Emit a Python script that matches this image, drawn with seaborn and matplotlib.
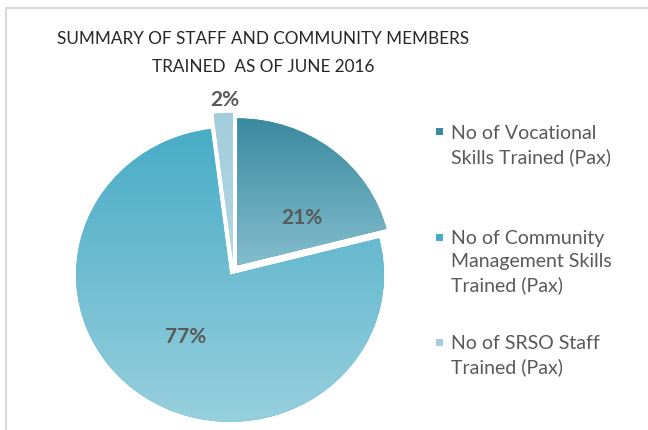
import numpy as np
import matplotlib
matplotlib.use("Agg")
import matplotlib.pyplot as plt
from matplotlib.patches import Rectangle
import seaborn as sns

# Dados do grafico
categorias = ["No of Vocational\nSkills Trained (Pax)",
              "No of Community\nManagement Skills\nTrained (Pax)",
              "No of SRSO Staff\nTrained (Pax)"]
percentuais = [21, 77, 2]
cor_topo = ["#3a8aa0", "#48acc6", "#a3cddb"]
cor_base = ["#83bdcd", "#97cfdd", "#b3d7e3"]
titulo = "SUMMARY OF STAFF AND COMMUNITY MEMBERS\nTRAINED  AS OF JUNE 2016"

sns.set_theme(style="white")
plt.rcParams["font.family"] = ["Lato", "DejaVu Sans"]

W, H = 648, 430
fig = plt.figure(figsize=(W / 100, H / 100), dpi=100)

# moldura cinza do grafico
fig.patches.append(Rectangle((6 / W, -0.1), 1.2, 1 - 8 / H + 0.1, transform=fig.transFigure,
                             fill=False, edgecolor="#d9d9d9", linewidth=1.5))

# eixo do pie (escala levemente achatada como na imagem)
cx, cy, rx, ry = 233.5, 270, 154, 147
x0, x1, y0, y1 = -1.3, 1.3, -1.15, 1.3
ax = fig.add_axes([(cx + x0 * rx) / W, (H - cy + y0 * ry) / H,
                   (x1 - x0) * rx / W, (y1 - y0) * ry / H])

wedges, _ = ax.pie(percentuais, startangle=90, counterclock=False,
                   explode=[0.04, 0.04, 0.07], colors=cor_topo, radius=1,
                   wedgeprops=dict(linewidth=0))

# gradiente vertical em cada fatia
grad = np.linspace(0, 1, 256).reshape(-1, 1)
for w, ct, cb in zip(wedges, cor_topo, cor_base):
    v = w.get_path().vertices
    cmap = sns.blend_palette([cb, ct], as_cmap=True)
    im = ax.imshow(grad, cmap=cmap, origin="lower", aspect="auto",
                   extent=(v[:, 0].min(), v[:, 0].max(), v[:, 1].min(), v[:, 1].max()),
                   zorder=w.get_zorder() + 0.1)
    im.set_clip_path(w)

ax.set_xlim(x0, x1)
ax.set_ylim(y0, y1)
ax.set_aspect("auto")
ax.axis("off")

# rotulos de percentual
dist = [0.53, 0.51, 1.09]
desvio = [-15, 0, -1]
for w, p, d, a in zip(wedges, percentuais, dist, desvio):
    th = np.deg2rad((w.theta1 + w.theta2) / 2 + a)
    ox, oy = w.center
    ax.text(ox + d * np.cos(th), oy + d * np.sin(th), f"{p}%",
            ha="center", va="center", fontsize=15, fontweight="bold", color="#595959")

# titulo
fig.text(263 / W, 1 - 31 / H, titulo, ha="center", va="top", fontsize=12.3,
         color="#262626", linespacing=1.95)

# legenda manual
topo_txt = [125, 230, 335]
centro_marc = [131, 237, 342]
for lab, ct, yt, ym in zip(categorias, cor_topo, topo_txt, centro_marc):
    fig.patches.append(Rectangle((436 / W, 1 - (ym + 3.5) / H), 7 / W, 7 / H,
                                 transform=fig.transFigure, facecolor=ct, edgecolor="none"))
    fig.text(451 / W, 1 - yt / H, lab, ha="left", va="top", fontsize=14,
             color="#595959", linespacing=1.42)

fig.savefig("out.png", dpi=100)
